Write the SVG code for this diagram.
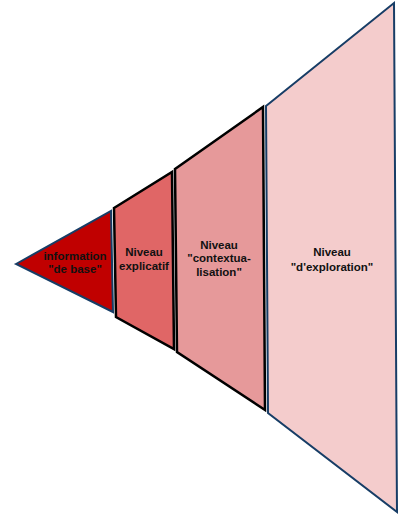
<svg xmlns="http://www.w3.org/2000/svg" width="407" height="515" viewBox="0 0 407 515">
<style>
text{font-family:"Liberation Sans",Arial,sans-serif;font-weight:bold;font-size:11.5px;fill:#111;text-anchor:middle}
.navy{stroke:#173d66;stroke-width:2;stroke-linejoin:miter}
.blk{stroke:#000;stroke-width:2.5;stroke-linejoin:miter}
</style>
<rect width="407" height="515" fill="#fff"/>
<g id="exploration">
<polygon class="navy" points="266,106 394,3 397,512 268,413" fill="#f4cccc"/>
<text x="332" y="256">Niveau</text>
<text x="332" y="271">"d'exploration"</text>
</g>
<g id="contextualisation">
<polygon class="blk" points="175,169 263,107 265,410 177,352" fill="#e6999a"/>
<text x="219" y="249">Niveau</text>
<text x="219" y="262">"contextua-</text>
<text x="219" y="276">lisation"</text>
</g>
<g id="explicatif">
<polygon class="blk" points="114,208 172,172 174,349 116,317" fill="#e06666"/>
<text x="144" y="256">Niveau</text>
<text x="144" y="270">explicatif</text>
</g>
<g id="base">
<polygon class="navy" points="16,264 111,211 113,312" fill="#c00000"/>
<text x="75" y="260">information</text>
<text x="75" y="273">"de base"</text>
</g>
<g id="connectors"/>
</svg>
